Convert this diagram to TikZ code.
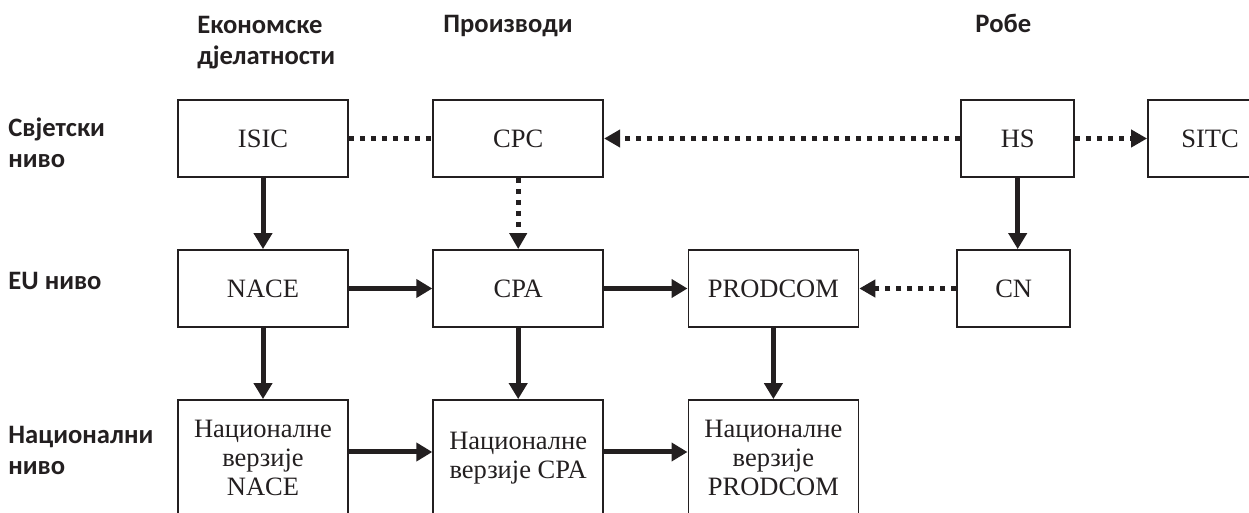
\documentclass[tikz,border=0pt]{standalone}
\usepackage{fontspec}
\setmainfont{Liberation Serif}
\newfontfamily\lblfont{Carlito}
\usepackage{xcolor}
\usetikzlibrary{arrows.meta,positioning}
\definecolor{ink}{HTML}{231F20}

\begin{document}
\begin{tikzpicture}[
    x=0.5pt, y=-0.5pt,
    node distance=35.6pt and 41.7pt,
    color=ink,
    box/.style={rectangle, draw, line width=0.9pt, minimum width=85pt, minimum height=38.5pt, align=center, font=\fontsize{13.25}{14.3}\selectfont},
    natbox/.style={box, minimum height=58pt},
    lbl/.style={anchor=base west, align=left, inner sep=0pt, font=\lblfont\bfseries\fontsize{13.3}{15.5}\selectfont},
    arrow/.style={-{Triangle[length=8pt,width=9pt]}, line width=2.5pt},
    dotline/.style={line width=2.5pt, dash pattern=on 2.5pt off 3pt},
    dotarrow/.style={dotline, -{Triangle[length=8pt,width=8.5pt]}}
]
\useasboundingbox (0,0) rectangle (1249,513);
\clip (0,0) rectangle (1249,513);

% Column and row headings (base = last line)
\node[lbl] (hact) at (197,65) {Економске\\дјелатности};
\node[lbl] (hprod) at (443,33) {Производи};
\node[lbl] (hgoods) at (975,33) {Робе};
\node[lbl] (lworld) at (8,168) {Свјетски\\ниво};
\node[lbl] (leu) at (8,290) {EU ниво};
\node[lbl] (lnat) at (8,474) {Национални\\ниво};

% World level
\node[box] (isic) at (263,138.5) {ISIC};
\node[box, right=of isic] (cpc) {CPC};

% EU level
\node[box, below=of isic] (nace) {NACE};
\node[box, below=of cpc] (cpa) {CPA};
\node[box, right=of cpa] (prodcom) {PRODCOM};
\node[box, minimum width=56.5pt, right=48.5pt of prodcom] (cn) {CN};

% World level, goods
\node[box, minimum width=56.5pt, above=of cn, xshift=2pt] (hs) {HS};
\node[box, minimum width=62pt, right=36pt of hs] (sitc) {SITC};

% National level
\node[natbox, below=of nace] (natnace) {Националне\\верзије\\NACE};
\node[natbox, below=of cpa] (natcpa) {Националне\\верзије CPA};
\node[natbox, below=of prodcom] (natprodcom) {Националне\\верзије\\PRODCOM};

% Arrows
\draw[dotline] (isic) -- (cpc);
\draw[dotarrow] (hs) -- (cpc);
\draw[dotarrow] (hs) -- (sitc);
\draw[dotarrow] (cpc) -- (cpa);
\draw[arrow] (isic) -- (nace);
\draw[arrow] (hs.south) -- (hs.south |- cn.north);
\draw[arrow] (nace) -- (cpa);
\draw[arrow] (cpa) -- (prodcom);
\draw[dotarrow] (cn) -- (prodcom);
\draw[arrow] (nace) -- (natnace);
\draw[arrow] (cpa) -- (natcpa);
\draw[arrow] (prodcom) -- (natprodcom);
\draw[arrow] ([yshift=3pt]natnace.east) -- ([yshift=3pt]natcpa.west);
\draw[arrow] ([yshift=3pt]natcpa.east) -- ([yshift=3pt]natprodcom.west);

\end{tikzpicture}
\end{document}
